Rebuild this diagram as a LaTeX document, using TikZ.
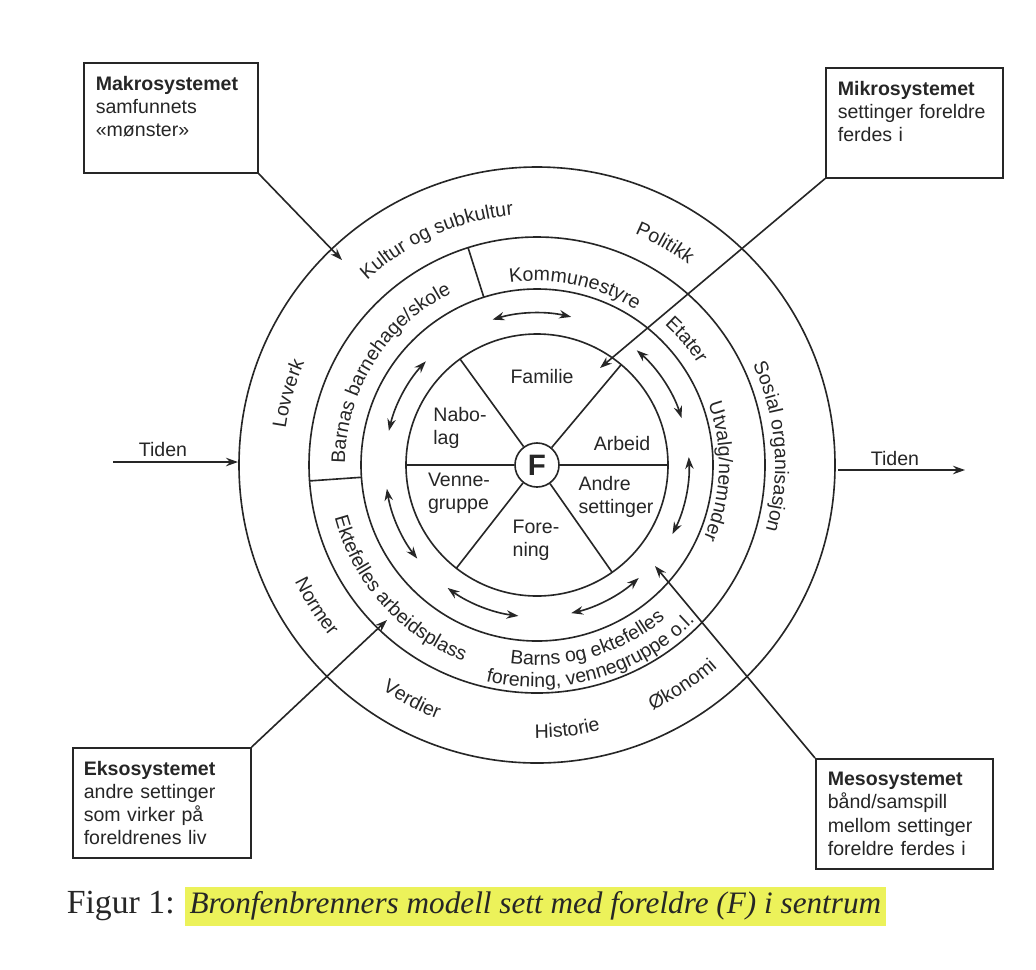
\documentclass[tikz,border=0pt]{standalone}
\usepackage{fontspec}
\setmainfont{Liberation Sans}
\newfontfamily\captionserif{Liberation Serif}
\usepackage{tikz}
\usetikzlibrary{arrows.meta,calc,decorations.text}
\definecolor{inkgrey}{RGB}{38,38,38}
\definecolor{markeryellow}{RGB}{236,242,90}
\newcommand{\ringfont}{\fontsize{13.9}{16.4}\selectfont}

\begin{document}
\begin{tikzpicture}[
    x=0.025cm, y=0.025cm,
    line width=1.15pt, color=inkgrey, font=\ringfont,
    sysbox/.style={rectangle, draw, anchor=north west, align=left, inner xsep=0.3cm, minimum height=2.75cm},
    arrow/.style={-{Stealth[length=8.5pt,width=6pt]}},
    twoway/.style={{Stealth[length=8.5pt,width=6pt]}-{Stealth[length=8.5pt,width=6pt]}},
    sector/.style={align=left, inner sep=0pt},
    ringlabel/.style={decorate, decoration={text along path, text align=center, text={|\ringfont\color{inkgrey}|#1}}}
]
\fill[white] (0,0) rectangle (1036,-969);
\useasboundingbox (0,0) rectangle (1036,-969);
\coordinate (C) at (537,-465);

% rings
\draw (C) circle[radius=298];
\draw (C) circle[radius=228];
\draw (C) circle[radius=176];
\draw (C) circle[radius=131];
\draw ($(C)+(107.6:176)$) -- ($(C)+(107.6:228)$);
\draw ($(C)+(184:176)$) -- ($(C)+(184:228)$);

% centre and sectors
\node[circle, draw, minimum size=1.1cm, inner sep=0pt, font=\fontsize{21}{21}\selectfont\bfseries] (F) at (C) {F};
\foreach \a in {0,50,126,180,232,305}
  \draw (F.\a) -- ($(C)+(\a:131)$);

\node[sector] (familie) at (542,-377) {Familie};
\node[sector] (nabolag) at (460,-428) {Nabo-\\lag};
\node[sector] (arbeid) at (622,-443) {Arbeid};
\node[sector] (vennegruppe) at (459,-493) {Venne-\\gruppe};
\node[sector] (andre) at (616,-497) {Andre\\settinger};
\node[sector] (forening) at (536,-540) {Fore-\\ning};

% two-way arrows between settings
\foreach \s/\e in {107/77, 49/18, 3/-27, -48/-77, -97/-126, 189/218, 137/167}
  \draw[twoway] ($(C)+(\s:152)$) arc[start angle=\s, end angle=\e, radius=152];

% middle ring
\path[ringlabel={Barnas barnehage/skole}] ($(C)+(208:192)$) arc[start angle=208, end angle=88, radius=192];
\path[ringlabel={Kommunestyre}] ($(C)+(138:184)$) arc[start angle=138, end angle=18, radius=184];
\path[ringlabel={Etater}] ($(C)+(100:190)$) arc[start angle=100, end angle=-20, radius=190];
\path[ringlabel={Utvalg/nemnder}] ($(C)+(58:182)$) arc[start angle=58, end angle=-62, radius=182];
\path[ringlabel={Ektefelles arbeidsplass}] ($(C)+(162:209)$) arc[start angle=162, end angle=282, radius=209];
\path[ringlabel={Barns og ektefelles}] ($(C)+(226:200)$) arc[start angle=226, end angle=346, radius=200];
\path[ringlabel={forening, vennegruppe o.l.}] ($(C)+(226:222)$) arc[start angle=226, end angle=346, radius=222];

% outer ring
\path[ringlabel={Kultur og subkultur}] ($(C)+(174:251)$) arc[start angle=174, end angle=54, radius=251];
\path[ringlabel={Politikk}] ($(C)+(120:251)$) arc[start angle=120, end angle=0, radius=251];
\path[ringlabel={Lovverk}] ($(C)+(224:254)$) arc[start angle=224, end angle=104, radius=254];
\path[ringlabel={Sosial organisasjon}] ($(C)+(64.5:238)$) arc[start angle=64.5, end angle=-55.5, radius=238];
\path[ringlabel={Normer}] ($(C)+(152.7:269)$) arc[start angle=152.7, end angle=272.7, radius=269];
\path[ringlabel={Verdier}] ($(C)+(182:273)$) arc[start angle=182, end angle=302, radius=273];
\path[ringlabel={Historie}] ($(C)+(216.5:273)$) arc[start angle=216.5, end angle=336.5, radius=273];
\path[ringlabel={Økonomi}] ($(C)+(243.5:271)$) arc[start angle=243.5, end angle=363.5, radius=271];

% time
\node (tidenleft) at (163,-449) {Tiden};
\coordinate (tidenleftfrom) at (113,-462);
\coordinate (tidenleftto) at (238,-462);
\draw[arrow] (tidenleftfrom) -- (tidenleftto);
\node (tidenright) at (895,-458) {Tiden};
\coordinate (tidenrightfrom) at (838,-470);
\coordinate (tidenrightto) at (965,-470);
\draw[arrow] (tidenrightfrom) -- (tidenrightto);

% system boxes
\node[sysbox, text width=3.75cm] (makro) at (83,-62) {\textbf{Makrosystemet}\\samfunnets\\«mønster»\\\mbox{}};
\node[sysbox, text width=3.825cm] (mikro) at (825,-67) {\textbf{Mikrosystemet}\\settinger foreldre\\ferdes i\\\mbox{}};
\node[sysbox, inner xsep=0.275cm, text width=3.9cm] (ekso) at (72,-747) {\textbf{Eksosystemet}\\andre settinger\\som virker på\\foreldrenes liv};
\node[sysbox, text width=3.825cm] (meso) at (815,-758) {\textbf{Mesosystemet}\\bånd/samspill\\mellom settinger\\foreldre ferdes i};

\coordinate (makrotip) at (342,-260);
\coordinate (mikrotip) at (600,-368);
\coordinate (eksotip) at (387,-620);
\coordinate (mesotip) at (655,-566);
\draw[arrow] (makro.south east) -- (makrotip);
\draw[arrow] (mikro.south west) -- (mikrotip);
\draw[arrow] (ekso.north east) -- (eksotip);
\draw[arrow] (meso.north west) -- (mesotip);

% caption
\node[anchor=base west, inner sep=0pt, font=\captionserif\fontsize{24}{24}\selectfont] (figlabel) at (66,-913) {Figur 1:};
\node[anchor=base west, fill=markeryellow, inner xsep=0.12cm, inner ysep=0pt, text height=0.65cm, text depth=0.32cm, font=\captionserif\itshape\fontsize{22.2}{22}\selectfont] (figtitle) at (184,-913) {Bronfenbrenners modell sett med foreldre (F) i sentrum};
\end{tikzpicture}
\end{document}
